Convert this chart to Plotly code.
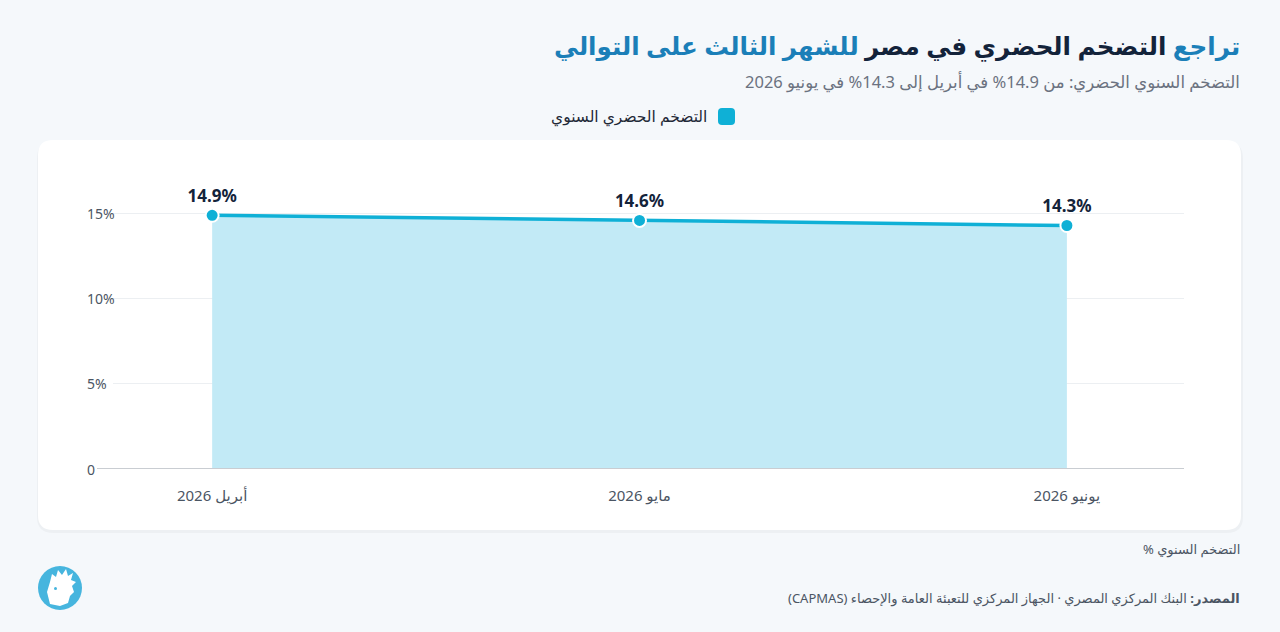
import plotly.graph_objects as go

months = ["أبريل 2026", "مايو 2026", "يونيو 2026"]
inflation = [14.9, 14.6, 14.3]
labels = ["14.9%", "14.6%", "14.3%"]
y_ticks = [0, 5, 10, 15]
y_ticktext = ["0", "5%", "10%", "15%"]

W, H = 1280, 632
L, R, T, B = 113, 1184, 171, 469
FONT = "Noto Sans, DejaVu Sans, sans-serif"
RLE, PDF = "\u202b", "\u202c"

def px(X):
    return (X - L) / (R - L)

def py(Y):
    return (B - Y) / (B - T)

def rounded_rect(x0, y0, x1, y1, r):
    def P(x, y):
        return f"{px(x):.5f},{py(y):.5f}"
    return (f"M {P(x0 + r, y0)} L {P(x1 - r, y0)} Q {P(x1, y0)} {P(x1, y0 + r)} "
            f"L {P(x1, y1 - r)} Q {P(x1, y1)} {P(x1 - r, y1)} "
            f"L {P(x0 + r, y1)} Q {P(x0, y1)} {P(x0, y1 - r)} "
            f"L {P(x0, y0 + r)} Q {P(x0, y0)} {P(x0 + r, y0)} Z")

def poly(points):
    return "M " + " L ".join(f"{px(x):.5f},{py(y):.5f}" for x, y in points) + " Z"

xs = list(range(len(months)))
fig = go.Figure()
fig.add_trace(go.Scatter(
    x=xs, y=inflation, mode="lines+markers+text",
    text=labels, textposition="top center",
    textfont=dict(family=FONT, size=17, color="#13233a", weight="bold"),
    line=dict(color="#0fb0d6", width=3.5),
    marker=dict(size=13, color="#0fb0d6", line=dict(color="white", width=2)),
    fill="tozeroy", fillcolor="#c2eaf6",
    showlegend=False, cliponaxis=False, hoverinfo="skip",
))

shapes = [
    dict(type="path", xref="paper", yref="paper", path=rounded_rect(37, 142, 1243, 533, 16),
         fillcolor="rgba(0,0,0,0.03)", line=dict(width=0), layer="below"),
    dict(type="path", xref="paper", yref="paper", path=rounded_rect(38, 140, 1241, 530, 15),
         fillcolor="white", line=dict(width=0), layer="below"),
    dict(type="line", xref="paper", yref="y", x0=px(97), x1=1, y0=0, y1=0,
         line=dict(color="#c9cdd2", width=2), layer="above"),
    dict(type="path", xref="paper", yref="paper", path=rounded_rect(718, 108, 735, 125, 4),
         fillcolor="#0fb0d6", line=dict(width=0)),
    dict(type="circle", xref="paper", yref="paper", x0=px(38), x1=px(82), y0=py(610), y1=py(566),
         fillcolor="#46b5de", line=dict(width=0)),
    dict(type="path", xref="paper", yref="paper",
         path=poly([(50, 604), (47, 592), (50, 582), (52, 574), (56, 577), (58, 570), (62, 575),
                    (66, 569), (68, 576), (73, 573), (71, 580), (76, 582), (72, 586), (74, 592),
                    (70, 596), (68, 603), (60, 606)]),
         fillcolor="white", line=dict(width=0)),
    dict(type="circle", xref="paper", yref="paper", x0=px(54), x1=px(57), y0=py(590), y1=py(587),
         fillcolor="#46b5de", line=dict(width=0)),
]

def ann(X, Y, text, size, color, xanchor="right", bold=False):
    return dict(x=px(X), y=py(Y), xref="paper", yref="paper", text=text, showarrow=False,
                xanchor=xanchor, yanchor="middle",
                font=dict(family=FONT, size=size, color=color, weight="bold" if bold else "normal"))

annotations = [
    ann(1242, 45, RLE + "<span style='color:#1b7fb8'>تراجع</span> التضخم الحضري في مصر <span style='color:#1b7fb8'>للشهر الثالث على التوالي</span>" + PDF,
        24.6, "#13233a", bold=True),
    ann(1242, 81, RLE + "التضخم السنوي الحضري: من 14.9% في أبريل إلى 14.3% في يونيو 2026" + PDF, 16.5, "#6b7280"),
    ann(709, 116, "التضخم الحضري السنوي", 15.5, "#1f2937"),
    ann(1242, 549, RLE + "التضخم السنوي %" + PDF, 13, "#4b5563"),
    ann(1242, 598, RLE + "<b>المصدر:</b> البنك المركزي المصري · الجهاز المركزي للتعبئة العامة والإحصاء (CAPMAS)" + PDF, 13, "#4b5563"),
]
for v, t in zip(y_ticks, y_ticktext):
    annotations.append(dict(x=px(85), y=v, xref="paper", yref="y", text=t, showarrow=False,
                            xanchor="left", yanchor="middle",
                            font=dict(family=FONT, size=14, color="#4b5563")))

fig.update_layout(
    width=W, height=H,
    margin=dict(l=L, r=W - R, t=T, b=H - B, pad=0),
    paper_bgcolor="#f5f8fb", plot_bgcolor="rgba(0,0,0,0)",
    font=dict(family=FONT),
    shapes=shapes, annotations=annotations,
    xaxis=dict(tickmode="array", tickvals=xs, ticktext=months, range=[-0.232, 2.274],
               showgrid=False, zeroline=False, showline=False, ticks="",
               tickfont=dict(family=FONT, size=15, color="#4b5563"), ticklabelstandoff=16),
    yaxis=dict(tickmode="array", tickvals=y_ticks, range=[0, 17.5], showticklabels=False,
               showgrid=True, gridcolor="#eceff2", gridwidth=1, zeroline=False, showline=False,
               ticks=""),
)

fig.write_html("out.html", config={"displayModeBar": False},
               post_script="document.body.style.margin='0';document.body.style.background='#f5f8fb';")
